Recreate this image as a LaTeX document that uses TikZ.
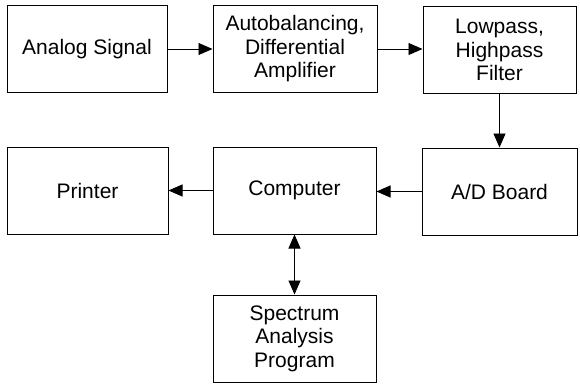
\documentclass[tikz,border=0pt]{standalone}
\usepackage{fontspec}
\setmainfont{Liberation Sans}
\usetikzlibrary{arrows.meta}
\begin{document}
\begin{tikzpicture}[x=1pt,y=-1pt,
  blk/.style={draw,line width=1pt,minimum height=87pt,align=center,inner sep=0pt,
    font=\fontsize{21}{23.5}\selectfont},
  conn/.style={line width=0.9pt,-{Triangle[length=14pt,width=12pt]}},
  conn2/.style={line width=0.9pt,{Triangle[length=14pt,width=12pt]}-{Triangle[length=14pt,width=12pt]}}]
\useasboundingbox (0,0) rectangle (580,385);
\node[blk,minimum width=160pt] (sig) at (87,49) {Analog Signal};
\node[blk,minimum width=164pt] (amp) at (295,49) {Autobalancing,\\Differential\\Amplifier};
\node[blk,minimum width=153pt] (fil) at (499.5,50) {Lowpass,\\Highpass\\Filter};
\node[blk,minimum width=161pt] (prn) at (87.5,190.5) {Printer};
\node[blk,minimum width=163pt] (cmp) at (294.5,190.5) {Computer};
\node[blk,minimum width=155pt] (ad) at (499.5,191.5) {A/D Board};
\node[blk,minimum width=163pt] (spa) at (294.5,338.5) {Spectrum\\Analysis\\Program};
\draw[conn] (sig.east) -- (amp.west);
\draw[conn] (amp.east) -- (amp.east -| fil.west);
\draw[conn] (fil.south) -- (ad.north);
\draw[conn] (ad.west) -- (ad.west -| cmp.east);
\draw[conn] (cmp.west) -- (prn.east);
\draw[conn2] (cmp.south) -- (spa.north);
\end{tikzpicture}
\end{document}
